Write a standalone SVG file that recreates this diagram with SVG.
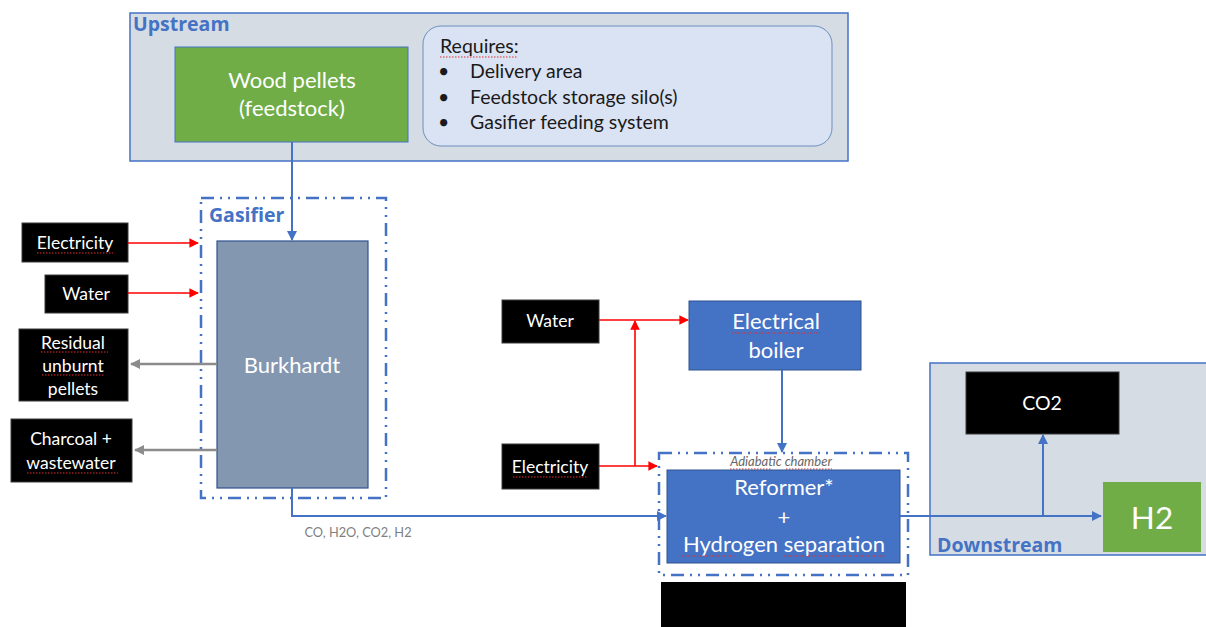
<svg xmlns="http://www.w3.org/2000/svg" width="1206" height="627" viewBox="0 0 1206 627">
<defs>
<style>
.t{font-family:Lato,"Liberation Sans",sans-serif}
.wt{fill:#fff}
.blk{fill:#000;stroke:#3a3a3a;stroke-width:1}
.zone{fill:#d6dce4;stroke:#4472c4;stroke-width:1.5}
.zlabel{font-family:"Open Sans","Liberation Sans",sans-serif;font-weight:bold;font-size:19.5px;fill:#4472c4}
.dd{fill:none;stroke:#4472c4;stroke-width:2.5;stroke-dasharray:13 6 2 6 2 6}
.blue{stroke:#4472c4;stroke-width:2;fill:none}
.red{stroke:#ff0000;stroke-width:1.6;fill:none}
.grey{stroke:#8c8c8c;stroke-width:2.5;fill:none}
.sq{stroke:#e03030;stroke-width:1;stroke-dasharray:1.5 1.5;fill:none}
.bx{font-size:17.5px}
.big{font-size:22px}
</style>
<marker id="ab" viewBox="0 0 10 10" refX="9" refY="5" markerWidth="5" markerHeight="5" orient="auto"><path d="M0,0L10,5L0,10z" fill="#4472c4"/></marker>
<marker id="ar" viewBox="0 0 10 10" refX="9" refY="5" markerWidth="6" markerHeight="6" orient="auto"><path d="M0,0L10,5L0,10z" fill="#ff0000"/></marker>
<marker id="ag" viewBox="0 0 10 10" refX="9" refY="5" markerWidth="4" markerHeight="4" orient="auto"><path d="M0,0L10,5L0,10z" fill="#8c8c8c"/></marker>
</defs>
<rect width="1206" height="627" fill="#fff"/>

<g id="upstream">
<rect class="zone" x="130" y="13" width="718" height="148"/>
<text class="zlabel" x="133" y="31">Upstream</text>
</g>
<g id="downstream">
<rect class="zone" x="930" y="363" width="280" height="192"/>
<text class="zlabel" x="937" y="552">Downstream</text>
</g>

<g id="wood-pellets">
<rect x="175" y="47" width="233" height="95" fill="#70ad47" stroke="#4472c4" stroke-width="1"/>
<text class="t wt big" text-anchor="middle"><tspan x="292" y="88">Wood pellets</tspan><tspan x="292" y="116">(feedstock)</tspan></text>
</g>

<g id="requires">
<rect x="423" y="26" width="409" height="120" rx="18" fill="#dae3f3" stroke="#6d8ebf" stroke-width="1"/>
<text class="t" font-size="19.5" fill="#1a1a1a">
<tspan x="440" y="53">Requires:</tspan>
<tspan x="438" y="78">•</tspan><tspan x="470" y="78">Delivery area</tspan>
<tspan x="438" y="104">•</tspan><tspan x="470" y="104">Feedstock storage silo(s)</tspan>
<tspan x="438" y="129">•</tspan><tspan x="470" y="129">Gasifier feeding system</tspan>
</text>
<path class="sq" d="M440 57h78"/>
</g>

<g id="gasifier">
<rect class="dd" x="201" y="198" width="185" height="300"/>
<text class="zlabel" x="209" y="222">Gasifier</text>
</g>

<g id="burkhardt">
<rect x="217" y="241" width="151" height="247" fill="#8497b0" stroke="#2f528f" stroke-width="1.2"/>
<text class="t wt big" text-anchor="middle" x="292" y="373">Burkhardt</text>
</g>

<g id="electricity-1">
<rect class="blk" x="22" y="223" width="106" height="39"/>
<text class="t wt bx" text-anchor="middle" x="75" y="249">Electricity</text>
<path class="sq" d="M37 253h76"/>
</g>
<g id="water-1">
<rect class="blk" x="45" y="275" width="83" height="38"/>
<text class="t wt bx" text-anchor="middle" x="86" y="300">Water</text>
</g>
<g id="residual">
<rect class="blk" x="19" y="329" width="109" height="72"/>
<text class="t wt bx" text-anchor="middle"><tspan x="73" y="349">Residual</tspan><tspan x="73" y="372">unburnt</tspan><tspan x="73" y="395">pellets</tspan></text>
<path class="sq" d="M41 352h67M42 375h63"/>
</g>
<g id="charcoal">
<rect class="blk" x="11" y="419" width="121" height="63"/>
<text class="t wt bx" text-anchor="middle"><tspan x="71" y="445">Charcoal +</tspan><tspan x="71" y="469">wastewater</tspan></text>
<path class="sq" d="M27 473h91"/>
</g>

<g id="water-2">
<rect class="blk" x="502" y="300" width="97" height="43"/>
<text class="t wt bx" text-anchor="middle" x="550" y="327">Water</text>
</g>
<g id="electricity-2">
<rect class="blk" x="502" y="444" width="97" height="45"/>
<text class="t wt bx" text-anchor="middle" x="550" y="473">Electricity</text>
<path class="sq" d="M513 477h75"/>
</g>

<g id="electrical-boiler">
<rect x="689" y="301" width="172" height="69" fill="#4472c4" stroke="#2f528f" stroke-width="1"/>
<text class="t wt big" text-anchor="middle"><tspan x="776" y="329">Electrical</tspan><tspan x="776" y="358">boiler</tspan></text>
<path class="sq" d="M732 333h88"/>
</g>

<g id="adiabatic-chamber">
<rect class="dd" x="659" y="453" width="249" height="122"/>
<text font-family="Lato,'Liberation Sans',sans-serif" font-style="italic" font-size="13" fill="#666" text-anchor="middle" x="781" y="466">Adiabatic chamber</text>
<path class="sq" d="M730 469h42M786 469h46"/>
</g>

<g id="reformer">
<rect x="667" y="470" width="233" height="93" fill="#4472c4" stroke="#2f528f" stroke-width="1"/>
<text class="t wt big" text-anchor="middle"><tspan x="784" y="495">Reformer*</tspan><tspan x="784" y="525">+</tspan><tspan x="784" y="552">Hydrogen separation</tspan></text>
<path class="sq" d="M682 556h54M784 556h102"/>
</g>

<g id="hidden-box">
<rect x="661" y="582" width="245" height="45" fill="#000"/>
</g>

<g id="co2">
<rect class="blk" x="966" y="372" width="153" height="62"/>
<text class="t wt" font-size="19.5" text-anchor="middle" x="1042" y="410">CO2</text>
</g>
<g id="h2">
<rect x="1103" y="482" width="98" height="70" fill="#70ad47"/>
<text class="t wt" font-size="31.5" text-anchor="middle" x="1152" y="529">H2</text>
</g>

<g id="connectors">
<path class="blue" d="M292 142V240" marker-end="url(#ab)"/>
<path class="red" d="M128 243H198" marker-end="url(#ar)"/>
<path class="red" d="M128 293H198" marker-end="url(#ar)"/>
<path class="grey" d="M217 364H131" marker-end="url(#ag)"/>
<path class="grey" d="M217 450H135" marker-end="url(#ag)"/>
<path class="blue" d="M292 488V516H666" marker-end="url(#ab)"/>
<text font-family="Lato,'Liberation Sans',sans-serif" font-size="12.8" fill="#7f7f7f" text-anchor="middle" x="358" y="537">CO, H2O, CO2, H2</text>
<path class="red" d="M599 320H688" marker-end="url(#ar)"/>
<path class="red" d="M599 466H657" marker-end="url(#ar)"/>
<path class="red" d="M635 466V321" marker-end="url(#ar)"/>
<path class="blue" d="M782 370V452" marker-end="url(#ab)"/>
<path class="blue" d="M900 516H1101" marker-end="url(#ab)"/>
<path class="blue" d="M1043 516V435" marker-end="url(#ab)"/>
</g>
</svg>
